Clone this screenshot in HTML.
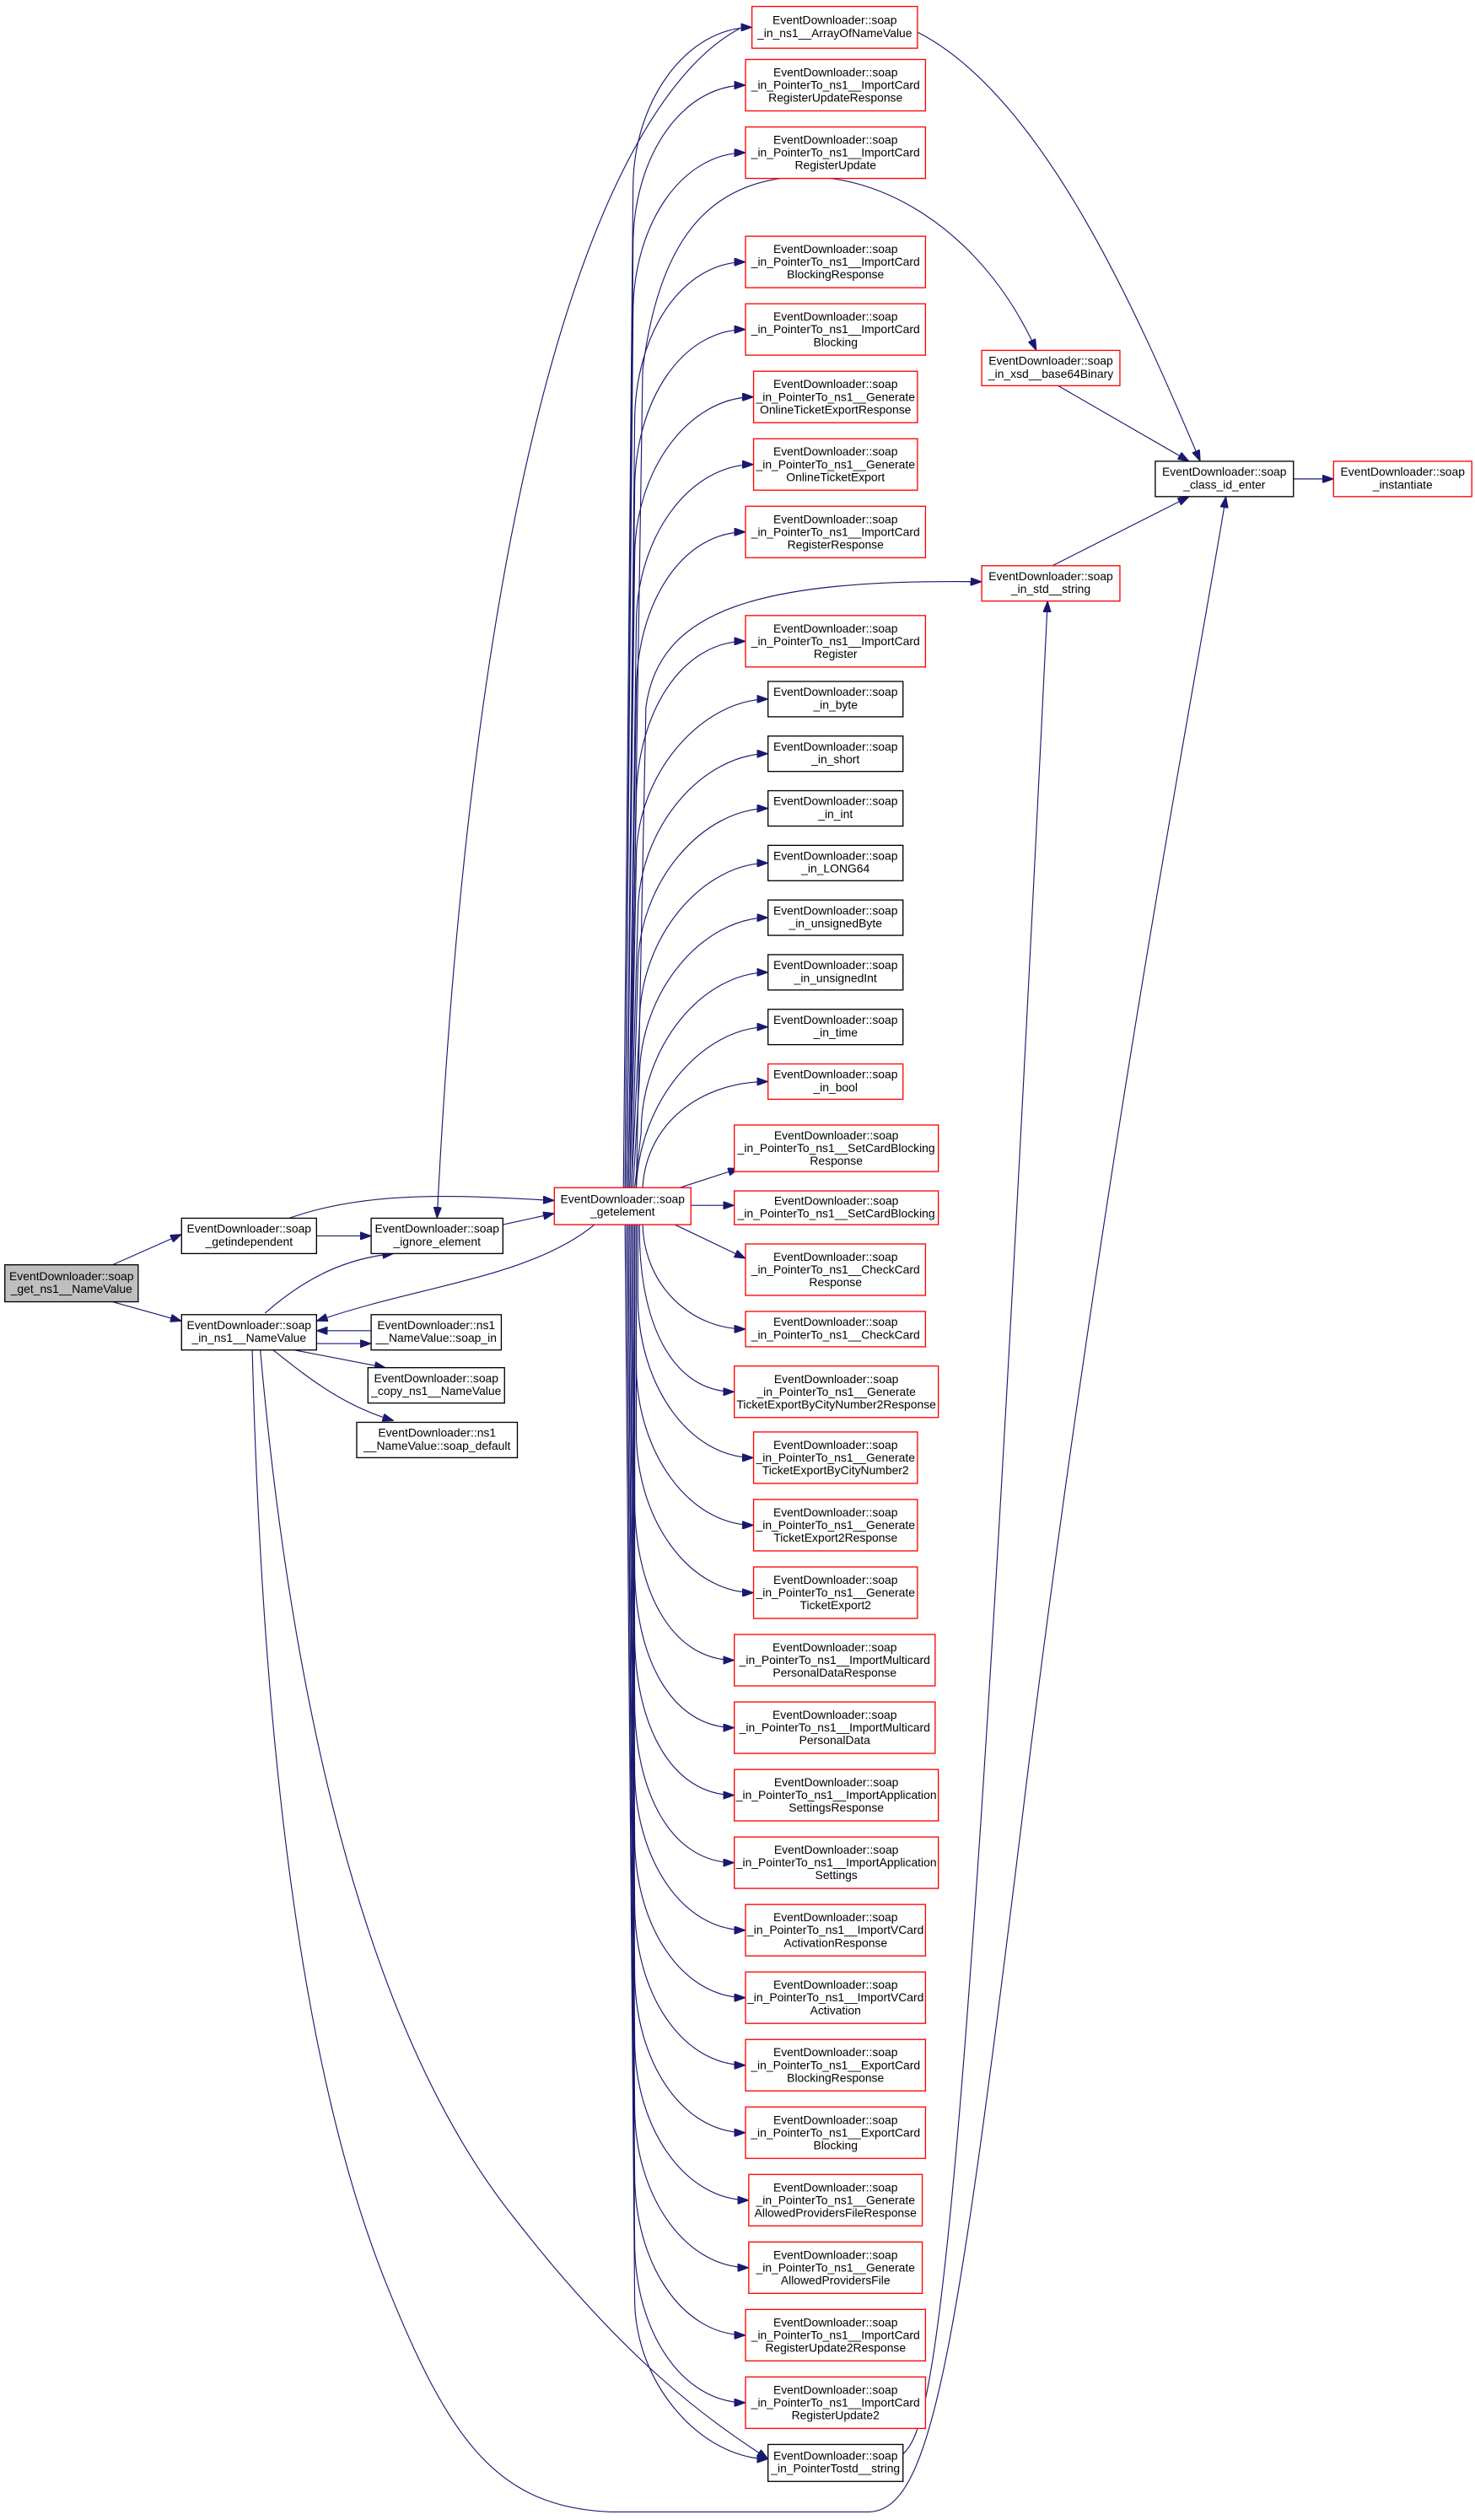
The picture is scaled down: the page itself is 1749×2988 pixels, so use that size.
<!DOCTYPE html>
<html><head><meta charset="utf-8"><style>
html,body{margin:0;padding:0;background:#fff;}
svg{display:block;}
text{font-family:"Liberation Sans",sans-serif;font-size:7.3px;fill:#000;text-anchor:middle;}
.e{fill:none;stroke:#191970;stroke-width:0.6;}
.r{fill:#fff;stroke:#ff0000;stroke-width:0.7;}
.b{fill:#fff;stroke:#000;stroke-width:0.7;}
.g{fill:#bfbfbf;stroke:#000;stroke-width:0.7;}
</style></head><body>
<svg width="1749" height="2988" viewBox="0 0 918 1568" preserveAspectRatio="none" xmlns="http://www.w3.org/2000/svg">
<defs><marker id="a" markerUnits="userSpaceOnUse" markerWidth="7" markerHeight="5" refX="7" refY="2.5" orient="auto"><path d="M0,0 L7,2.5 L0,5 z" fill="#191970" stroke="#191970" stroke-width="0.5"/></marker></defs>
<g marker-end="url(#a)">
<path class="e" d="M70,787 L113,768"/>
<path class="e" d="M70,810 L113,822"/>
<path class="e" d="M197,769 L231,769"/>
<path class="e" d="M180,758 C230,740 290,744 345,747"/>
<path class="e" d="M313,762 L345,755"/>
<path class="e" d="M370,762 C330,795 260,800 197,822"/>
<path class="e" d="M165,817 C190,795 215,783 245,780"/>
<path class="e" d="M231,828 L197,828"/>
<path class="e" d="M197,836 L231,836"/>
<path class="e" d="M183,840 L240,851"/>
<path class="e" d="M170,840 C195,860 215,875 245,884"/>
<path class="e" d="M162,840 C185,1100 240,1280 320,1380 C390,1470 440,1505 478,1530"/>
<path class="e" d="M157,840 C165,1150 200,1320 240,1420 C280,1520 310,1560 380,1563 L540,1563 C580,1563 595,1470 640,1100 C690,700 745,420 763,309"/>
<path class="e" d="M460,18 C400,50 300,200 272,758"/>
<path class="e" d="M571,20 C650,60 710,200 747,287"/>
<path class="e" d="M655,238 L740,287"/>
<path class="e" d="M655,352 L740,309"/>
<path class="e" d="M805,298 L830,298"/>
<path class="e" d="M562,1527 C580,1510 600,1450 652,374"/>
<path class="e" d="M392,739 L400,230 C410,150 440,120 480,112 C540,100 610,140 645,218"/>
<path class="e" d="M396,739 L402,440 C410,380 470,360 611,362"/>
<path class="e" d="M388,739 L394,117 C394,62 428,17 468,17"/>
<path class="e" d="M389,739 L394,153 C394,98 424,53 464,53"/>
<path class="e" d="M389,739 L394,195 C394,140 424,95 464,95"/>
<path class="e" d="M390,739 L395,263 C395,208 424,163 464,163"/>
<path class="e" d="M390,739 L395,305 C395,250 424,205 464,205"/>
<path class="e" d="M390,739 L395,347 C395,292 429,247 469,247"/>
<path class="e" d="M391,739 L396,389 C396,334 429,289 469,289"/>
<path class="e" d="M391,739 L396,431 C396,376 424,331 464,331"/>
<path class="e" d="M391,739 L396,499 C396,444 424,399 464,399"/>
<path class="e" d="M392,739 L396,535 C396,480 438,435 478,435"/>
<path class="e" d="M392,739 L397,569 C397,514 438,469 478,469"/>
<path class="e" d="M393,739 L397,603 C397,548 438,503 478,503"/>
<path class="e" d="M393,739 L398,637 C398,582 438,537 478,537"/>
<path class="e" d="M394,739 L398,671 C398,616 438,571 478,571"/>
<path class="e" d="M395,739 L399,705 C399,650 438,605 478,605"/>
<path class="e" d="M396,739 C398,684 438,639 478,639"/>
<path class="e" d="M400,739 C402,700 435,673 478,673"/>
<path class="e" d="M420,740 L460,727"/>
<path class="e" d="M430,750 L457,750"/>
<path class="e" d="M420,762 L464,783"/>
<path class="e" d="M400,762 C401,800 430,827 464,827"/>
<path class="e" d="M398,762 L398,766 C398,821 417,866 457,866"/>
<path class="e" d="M397,762 L397,807 C397,862 429,907 469,907"/>
<path class="e" d="M396,762 L396,849 C396,904 429,949 469,949"/>
<path class="e" d="M396,762 L396,891 C396,946 429,991 469,991"/>
<path class="e" d="M395,762 L395,933 C395,988 417,1033 457,1033"/>
<path class="e" d="M395,762 L395,975 C395,1030 417,1075 457,1075"/>
<path class="e" d="M394,762 L395,1017 C395,1072 417,1117 457,1117"/>
<path class="e" d="M394,762 L395,1059 C395,1114 417,1159 457,1159"/>
<path class="e" d="M393,762 L395,1101 C395,1156 424,1201 464,1201"/>
<path class="e" d="M393,762 L395,1143 C395,1198 424,1243 464,1243"/>
<path class="e" d="M392,762 L395,1185 C395,1240 424,1285 464,1285"/>
<path class="e" d="M392,762 L395,1227 C395,1282 424,1327 464,1327"/>
<path class="e" d="M391,762 L395,1269 C395,1324 426,1369 466,1369"/>
<path class="e" d="M391,762 L395,1311 C395,1366 426,1411 466,1411"/>
<path class="e" d="M390,762 L395,1353 C395,1408 424,1453 464,1453"/>
<path class="e" d="M390,762 L395,1395 C395,1450 424,1495 464,1495"/>
<path class="e" d="M389,762 L395,1430 C395,1485 438,1530 478,1530"/>
</g>
<!-- left nodes -->
<rect class="g" x="3" y="787" width="83" height="23"/><text x="44.5" y="796.5">EventDownloader::soap</text><text x="44.5" y="804.4">_get_ns1__NameValue</text>
<rect class="b" x="113" y="758" width="84" height="22"/><text x="155" y="767">EventDownloader::soap</text><text x="155" y="775">_getindependent</text>
<rect class="b" x="231" y="758" width="82" height="22"/><text x="272" y="767">EventDownloader::soap</text><text x="272" y="775">_ignore_element</text>
<rect class="b" x="113" y="818" width="84" height="22"/><text x="155" y="827">EventDownloader::soap</text><text x="155" y="835">_in_ns1__NameValue</text>
<rect class="b" x="231" y="818" width="81" height="22"/><text x="271.5" y="827">EventDownloader::ns1</text><text x="271.5" y="835">__NameValue::soap_in</text>
<rect class="b" x="229" y="851" width="85" height="22"/><text x="271.5" y="860">EventDownloader::soap</text><text x="271.5" y="868">_copy_ns1__NameValue</text>
<rect class="b" x="222" y="885" width="100" height="22"/><text x="272" y="894">EventDownloader::ns1</text><text x="272" y="902">__NameValue::soap_default</text>
<rect class="r" x="345" y="739" width="85" height="23"/><text x="387.5" y="748.5">EventDownloader::soap</text><text x="387.5" y="756.4">_getelement</text>
<!-- right nodes -->
<rect class="r" x="611" y="218" width="86" height="22"/><text x="654" y="227">EventDownloader::soap</text><text x="654" y="235">_in_xsd__base64Binary</text>
<rect class="r" x="611" y="352" width="86" height="22"/><text x="654" y="361">EventDownloader::soap</text><text x="654" y="369">_in_std__string</text>
<rect class="b" x="719" y="287" width="86" height="22"/><text x="762" y="296">EventDownloader::soap</text><text x="762" y="304">_class_id_enter</text>
<rect class="r" x="830" y="287" width="86" height="22"/><text x="873" y="296">EventDownloader::soap</text><text x="873" y="304">_instantiate</text>
<!-- column -->
<rect class="r" x="468" y="4" width="103" height="26"/><text x="519.5" y="15">EventDownloader::soap</text><text x="519.5" y="23">_in_ns1__ArrayOfNameValue</text>
<rect class="r" x="464" y="37" width="112" height="32"/><text x="520" y="47.5">EventDownloader::soap</text><text x="520" y="55.4">_in_PointerTo_ns1__ImportCard</text><text x="520" y="63.3">RegisterUpdateResponse</text>
<rect class="r" x="464" y="79" width="112" height="32"/><text x="520" y="89.5">EventDownloader::soap</text><text x="520" y="97.4">_in_PointerTo_ns1__ImportCard</text><text x="520" y="105.3">RegisterUpdate</text>
<rect class="r" x="464" y="147" width="112" height="32"/><text x="520" y="157.5">EventDownloader::soap</text><text x="520" y="165.4">_in_PointerTo_ns1__ImportCard</text><text x="520" y="173.3">BlockingResponse</text>
<rect class="r" x="464" y="189" width="112" height="32"/><text x="520" y="199.5">EventDownloader::soap</text><text x="520" y="207.4">_in_PointerTo_ns1__ImportCard</text><text x="520" y="215.3">Blocking</text>
<rect class="r" x="469" y="231" width="102" height="32"/><text x="520" y="241.5">EventDownloader::soap</text><text x="520" y="249.4">_in_PointerTo_ns1__Generate</text><text x="520" y="257.3">OnlineTicketExportResponse</text>
<rect class="r" x="469" y="273" width="102" height="32"/><text x="520" y="283.5">EventDownloader::soap</text><text x="520" y="291.4">_in_PointerTo_ns1__Generate</text><text x="520" y="299.3">OnlineTicketExport</text>
<rect class="r" x="464" y="315" width="112" height="32"/><text x="520" y="325.5">EventDownloader::soap</text><text x="520" y="333.4">_in_PointerTo_ns1__ImportCard</text><text x="520" y="341.3">RegisterResponse</text>
<rect class="r" x="464" y="383" width="112" height="32"/><text x="520" y="393.5">EventDownloader::soap</text><text x="520" y="401.4">_in_PointerTo_ns1__ImportCard</text><text x="520" y="409.3">Register</text>
<rect class="b" x="478" y="424" width="84" height="22"/><text x="520" y="433">EventDownloader::soap</text><text x="520" y="441">_in_byte</text>
<rect class="b" x="478" y="458" width="84" height="22"/><text x="520" y="467">EventDownloader::soap</text><text x="520" y="475">_in_short</text>
<rect class="b" x="478" y="492" width="84" height="22"/><text x="520" y="501">EventDownloader::soap</text><text x="520" y="509">_in_int</text>
<rect class="b" x="478" y="526" width="84" height="22"/><text x="520" y="535">EventDownloader::soap</text><text x="520" y="543">_in_LONG64</text>
<rect class="b" x="478" y="560" width="84" height="22"/><text x="520" y="569">EventDownloader::soap</text><text x="520" y="577">_in_unsignedByte</text>
<rect class="b" x="478" y="594" width="84" height="22"/><text x="520" y="603">EventDownloader::soap</text><text x="520" y="611">_in_unsignedInt</text>
<rect class="b" x="478" y="628" width="84" height="22"/><text x="520" y="637">EventDownloader::soap</text><text x="520" y="645">_in_time</text>
<rect class="r" x="478" y="662" width="84" height="22"/><text x="520" y="671">EventDownloader::soap</text><text x="520" y="679">_in_bool</text>
<rect class="r" x="457" y="700" width="127" height="29"/><text x="520.5" y="709">EventDownloader::soap</text><text x="520.5" y="716.9">_in_PointerTo_ns1__SetCardBlocking</text><text x="520.5" y="724.8">Response</text>
<rect class="r" x="457" y="741" width="127" height="21"/><text x="520.5" y="749.5">EventDownloader::soap</text><text x="520.5" y="757.4">_in_PointerTo_ns1__SetCardBlocking</text>
<rect class="r" x="464" y="774" width="112" height="32"/><text x="520" y="784.5">EventDownloader::soap</text><text x="520" y="792.4">_in_PointerTo_ns1__CheckCard</text><text x="520" y="800.3">Response</text>
<rect class="r" x="464" y="816" width="112" height="22"/><text x="520" y="825">EventDownloader::soap</text><text x="520" y="833">_in_PointerTo_ns1__CheckCard</text>
<rect class="r" x="457" y="850" width="127" height="32"/><text x="520.5" y="860.5">EventDownloader::soap</text><text x="520.5" y="868.4">_in_PointerTo_ns1__Generate</text><text x="520.5" y="876.3">TicketExportByCityNumber2Response</text>
<rect class="r" x="469" y="891" width="102" height="32"/><text x="520" y="901.5">EventDownloader::soap</text><text x="520" y="909.4">_in_PointerTo_ns1__Generate</text><text x="520" y="917.3">TicketExportByCityNumber2</text>
<rect class="r" x="469" y="933" width="102" height="32"/><text x="520" y="943.5">EventDownloader::soap</text><text x="520" y="951.4">_in_PointerTo_ns1__Generate</text><text x="520" y="959.3">TicketExport2Response</text>
<rect class="r" x="469" y="975" width="102" height="32"/><text x="520" y="985.5">EventDownloader::soap</text><text x="520" y="993.4">_in_PointerTo_ns1__Generate</text><text x="520" y="1001.3">TicketExport2</text>
<rect class="r" x="457" y="1017" width="125" height="32"/><text x="519.5" y="1027.5">EventDownloader::soap</text><text x="519.5" y="1035.4">_in_PointerTo_ns1__ImportMulticard</text><text x="519.5" y="1043.3">PersonalDataResponse</text>
<rect class="r" x="457" y="1059" width="125" height="32"/><text x="519.5" y="1069.5">EventDownloader::soap</text><text x="519.5" y="1077.4">_in_PointerTo_ns1__ImportMulticard</text><text x="519.5" y="1085.3">PersonalData</text>
<rect class="r" x="457" y="1101" width="127" height="32"/><text x="520.5" y="1111.5">EventDownloader::soap</text><text x="520.5" y="1119.4">_in_PointerTo_ns1__ImportApplication</text><text x="520.5" y="1127.3">SettingsResponse</text>
<rect class="r" x="457" y="1143" width="127" height="32"/><text x="520.5" y="1153.5">EventDownloader::soap</text><text x="520.5" y="1161.4">_in_PointerTo_ns1__ImportApplication</text><text x="520.5" y="1169.3">Settings</text>
<rect class="r" x="464" y="1185" width="112" height="32"/><text x="520" y="1195.5">EventDownloader::soap</text><text x="520" y="1203.4">_in_PointerTo_ns1__ImportVCard</text><text x="520" y="1211.3">ActivationResponse</text>
<rect class="r" x="464" y="1227" width="112" height="32"/><text x="520" y="1237.5">EventDownloader::soap</text><text x="520" y="1245.4">_in_PointerTo_ns1__ImportVCard</text><text x="520" y="1253.3">Activation</text>
<rect class="r" x="464" y="1269" width="112" height="32"/><text x="520" y="1279.5">EventDownloader::soap</text><text x="520" y="1287.4">_in_PointerTo_ns1__ExportCard</text><text x="520" y="1295.3">BlockingResponse</text>
<rect class="r" x="464" y="1311" width="112" height="32"/><text x="520" y="1321.5">EventDownloader::soap</text><text x="520" y="1329.4">_in_PointerTo_ns1__ExportCard</text><text x="520" y="1337.3">Blocking</text>
<rect class="r" x="466" y="1353" width="108" height="32"/><text x="520" y="1363.5">EventDownloader::soap</text><text x="520" y="1371.4">_in_PointerTo_ns1__Generate</text><text x="520" y="1379.3">AllowedProvidersFileResponse</text>
<rect class="r" x="466" y="1395" width="108" height="32"/><text x="520" y="1405.5">EventDownloader::soap</text><text x="520" y="1413.4">_in_PointerTo_ns1__Generate</text><text x="520" y="1421.3">AllowedProvidersFile</text>
<rect class="r" x="464" y="1437" width="112" height="32"/><text x="520" y="1447.5">EventDownloader::soap</text><text x="520" y="1455.4">_in_PointerTo_ns1__ImportCard</text><text x="520" y="1463.3">RegisterUpdate2Response</text>
<rect class="r" x="464" y="1479" width="112" height="32"/><text x="520" y="1489.5">EventDownloader::soap</text><text x="520" y="1497.4">_in_PointerTo_ns1__ImportCard</text><text x="520" y="1505.3">RegisterUpdate2</text>
<rect class="b" x="478" y="1521" width="84" height="23"/><text x="520" y="1530.5">EventDownloader::soap</text><text x="520" y="1538.4">_in_PointerTostd__string</text>
</svg>
</body></html>
